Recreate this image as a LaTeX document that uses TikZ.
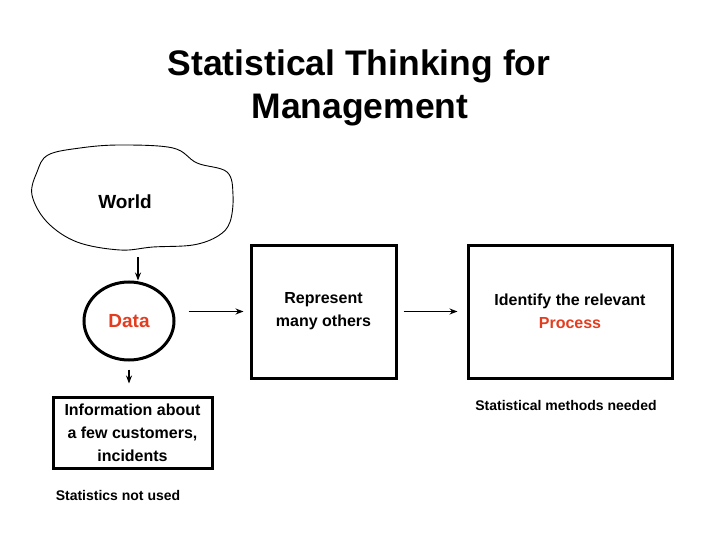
\documentclass[tikz,border=0pt]{standalone}
\usepackage{fontspec}
\setmainfont{Liberation Sans}
\usetikzlibrary{arrows.meta,positioning,shapes.geometric}
\definecolor{datared}{RGB}{228,60,30}
\tikzset{
  box/.style={draw,line width=3pt,minimum width=#1,align=center,inner sep=0pt,font=\bfseries\fontsize{16}{23}\selectfont},
  arr/.style={-{Stealth[length=8pt,width=6pt]},line width=1.4pt},
  note/.style={font=\bfseries\fontsize{14}{16}\selectfont}
}
\begin{document}
\begin{tikzpicture}[x=1pt,y=-1pt]
    \useasboundingbox (0,0) rectangle (720,540);
    % title
    \node[anchor=base,font=\bfseries\fontsize{35.5}{42}\selectfont] (title1) at (359,76) {Statistical Thinking for};
    \node[anchor=base,font=\bfseries\fontsize{35.5}{42}\selectfont] (title2) at (360,119) {Management};
    % the world
    \draw[line width=.9pt] plot[smooth cycle,tension=.6] coordinates {(48,155) (80,148) (120,145) (173,148) (197,163) (227,172) (233,195) (230,222) (218,236) (193,245) (153,247) (120,250) (77,242) (47,222) (32,195) (37,172)};
    \node[font=\bfseries\fontsize{19}{22}\selectfont] (world) at (125,202) {World};
    \coordinate (blobbot) at (138,247);
    % data
    \node[draw,ellipse,line width=3pt,minimum width=90,minimum height=78,inner sep=0pt,text=datared,font=\bfseries\fontsize{19}{22}\selectfont] (data) at (129,321) {Data};
    \node[box=159,minimum height=71] (info) at (132.5,432.5) {Information about\\a few customers,\\incidents};
    \node[box=145,minimum height=133] (rep) at (323.5,311.5) {Represent\\many others};
    \node[box=204,minimum height=133] (ident) at (570,311.5) {Identify the relevant\\\textcolor{datared}{Process}};
    \node[note] (notused) at (118,495) {Statistics not used};
    \node[note] (needed) at (566,405) {Statistical methods needed};
    % arrows
    \draw[arr,shorten <=10pt] (blobbot) -- (blobbot |- data.north);
    \draw[arr,shorten <=8pt,shorten >=12pt] (data.south) -- (data.south |- info.north);
    \draw[arr,shorten <=13pt,shorten >=6pt] (data.east |- rep.west) -- (rep.west);
    \draw[arr,shorten <=6pt,shorten >=9pt] (rep.east) -- (ident.west);
\end{tikzpicture}
\end{document}
